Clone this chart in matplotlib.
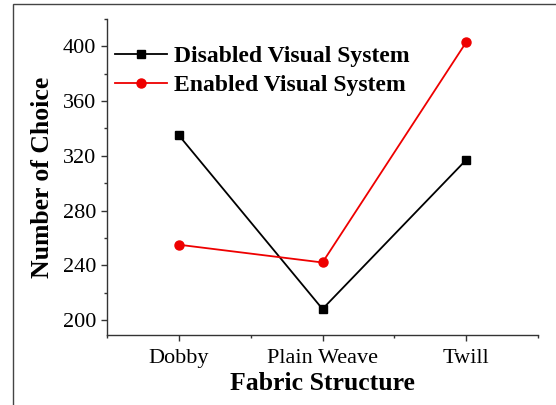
import matplotlib

matplotlib.use("Agg")
import matplotlib.pyplot as plt
from matplotlib.patches import Rectangle
from matplotlib.ticker import MultipleLocator, FixedLocator

CATEGORIES = ["Dobby", "Plain Weave", "Twill"]
DISABLED = [335, 208, 317]
ENABLED = [255, 242, 403]
Y_TICKS = [200, 240, 280, 320, 360, 400]

plt.rcParams["font.family"] = ["Liberation Serif", "DejaVu Serif"]

fig = plt.figure(figsize=(5.56, 4.05), dpi=100)
ax = fig.add_axes([107 / 556, 1 - 335 / 405, (538 - 107) / 556, (335 - 19) / 405])

x = list(range(1, len(CATEGORIES) + 1))
ax.plot(x, DISABLED, color="black", linewidth=1.3, marker="s", markersize=5.5,
        label="Disabled Visual System")
ax.plot(x, ENABLED, color="#ee0000", linewidth=1.3, marker="o", markersize=6.5,
        label="Enabled Visual System")

ax.set_xlim(0.5, 3.5)
ax.set_ylim(189, 420)
ax.set_xticks(x)
ax.set_xticklabels(CATEGORIES)
ax.xaxis.set_minor_locator(FixedLocator([0.5, 1.5, 2.5, 3.5]))
ax.set_yticks(Y_TICKS)
ax.yaxis.set_minor_locator(MultipleLocator(20))

ax.spines["top"].set_visible(False)
ax.spines["right"].set_visible(False)
for side in ("left", "bottom"):
    ax.spines[side].set_linewidth(1.0)
    ax.spines[side].set_color("#333333")

ax.tick_params(axis="both", which="major", direction="out", length=4, width=1.0,
               labelsize=16, color="#333333")
ax.tick_params(axis="both", which="minor", direction="out", length=2.5, width=1.0,
               color="#333333")
ax.tick_params(axis="x", pad=6)
ax.tick_params(axis="y", pad=4)

ax.set_xlabel("Fabric Structure", fontsize=18.5, fontweight="bold", labelpad=3)
ax.set_ylabel("Number of Choice", fontsize=18.5, fontweight="bold", labelpad=6)

ax.legend(loc="upper left", bbox_to_anchor=(-0.003, 0.945), frameon=False,
          prop={"size": 17, "weight": "bold"}, handlelength=2.2,
          handletextpad=0.3, labelspacing=0.3, borderaxespad=0.0)

# outer frame around the whole figure
fig.patches.append(Rectangle((13 / 556, -0.05), 1.2, 1 - 4 / 405 + 0.05,
                             transform=fig.transFigure, fill=False,
                             edgecolor="#444444", linewidth=1.0))

fig.savefig("out.png", dpi=100)
